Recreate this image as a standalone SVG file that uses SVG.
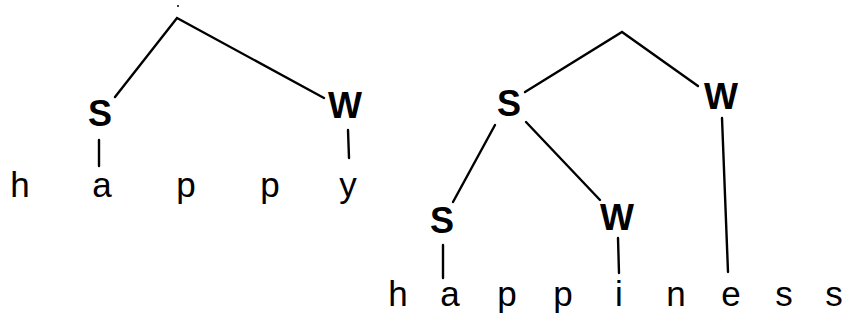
<svg xmlns="http://www.w3.org/2000/svg" width="844" height="320" viewBox="0 0 844 320">
<style>
.lbl{font-family:"Liberation Sans",Arial,sans-serif;font-weight:bold;font-size:36px;text-anchor:middle;fill:#000}
.seg{font-family:"Liberation Sans",Arial,sans-serif;font-size:35px;text-anchor:middle;fill:#000}
.ln{stroke:#000;stroke-width:2.4;fill:none;stroke-linecap:round}
</style>
<rect width="844" height="320" fill="#fff"/>
<g id="connectors">
<polyline class="ln" points="115,97 177,18 324,98"/>
<line class="ln" x1="99" y1="140" x2="99" y2="166"/>
<line class="ln" x1="348" y1="130" x2="349" y2="158"/>
<polyline class="ln" points="525,92 622,32 698,86"/>
<line class="ln" x1="495" y1="125" x2="453" y2="202"/>
<line class="ln" x1="526" y1="122" x2="600" y2="200"/>
<line class="ln" x1="722" y1="118" x2="728" y2="272"/>
<line class="ln" x1="443" y1="245" x2="443" y2="278"/>
<line class="ln" x1="618" y1="238" x2="619" y2="273"/>
</g>
<g id="root-left"><circle cx="178" cy="6" r="1" fill="#000"/></g>
<g id="left-S"><text class="lbl" x="100" y="126">S</text></g>
<g id="left-W"><text class="lbl" x="345" y="118">W</text></g>
<g id="left-word">
<text class="seg" x="20" y="197">h</text>
<text class="seg" x="102" y="197">a</text>
<text class="seg" x="186" y="197">p</text>
<text class="seg" x="270" y="197">p</text>
<text class="seg" x="348" y="197">y</text>
</g>
<g id="right-S"><text class="lbl" x="509" y="116">S</text></g>
<g id="right-W"><text class="lbl" x="721" y="109">W</text></g>
<g id="right-S-S"><text class="lbl" x="442" y="233">S</text></g>
<g id="right-S-W"><text class="lbl" x="617" y="230">W</text></g>
<g id="right-word">
<text class="seg" x="398" y="306">h</text>
<text class="seg" x="450" y="306">a</text>
<text class="seg" x="507" y="306">p</text>
<text class="seg" x="563" y="306">p</text>
<text class="seg" x="619" y="306">i</text>
<text class="seg" x="676" y="306">n</text>
<text class="seg" x="731" y="306">e</text>
<text class="seg" x="784" y="306">s</text>
<text class="seg" x="834" y="306">s</text>
</g>
</svg>
